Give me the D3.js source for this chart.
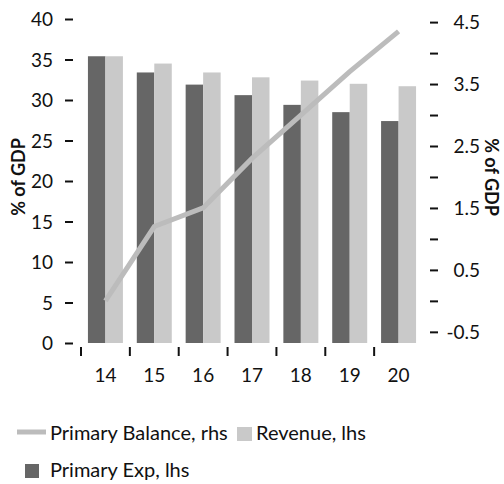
<!DOCTYPE html>
<html>
<head>
<meta charset="utf-8">
<script src="https://cdn.jsdelivr.net/npm/d3@7"></script>
<style>
  html, body { margin: 0; padding: 0; background: #fff; }
  svg text { font-family: Lato, "Open Sans", sans-serif; fill: #111; }
</style>
</head>
<body>
<svg id="chart" width="504" height="484"></svg>
<script>
// Fiscal projections, % of GDP
const years = ["14", "15", "16", "17", "18", "19", "20"];
const primaryExp = [35.4, 33.4, 31.9, 30.6, 29.4, 28.5, 27.4];
const revenue = [35.4, 34.5, 33.4, 32.8, 32.4, 32.0, 31.7];
const primaryBalance = [0.0, 1.2, 1.5, 2.3, 3.0, 3.7, 4.35];

const leftTicks = [0, 5, 10, 15, 20, 25, 30, 35, 40];
const rightTicks = [-0.5, 0, 0.5, 1, 1.5, 2, 2.5, 3, 3.5, 4, 4.5];
const rightLabelled = [-0.5, 0.5, 1.5, 2.5, 3.5, 4.5];

const seriesNames = {
  balance: "Primary Balance, rhs",
  revenue: "Revenue, lhs",
  exp: "Primary Exp, lhs"
};
const colors = { exp: "#666666", revenue: "#c9c9c9", balance: "#bcbcbc" };

const svg = d3.select("#chart");
const axisFont = 19;
const legendFont = 20;
const titleFont = 18;

const plotTop = 19, plotBottom = 343, plotLeft = 81, plotRight = 423;

const x = d3.scaleBand().domain(years).range([plotLeft, plotRight])
  .paddingInner(0.284).paddingOuter(0.142);
const xSub = d3.scaleBand().domain(["exp", "revenue"]).range([0, x.bandwidth()]);
const yL = d3.scaleLinear().domain([0, 40]).range([plotBottom, plotTop]);
const yR = d3.scaleLinear().domain([-0.68, 4.55]).range([plotBottom, plotTop]);

// Bars
const rows = years.map((y, i) => ({ year: y, exp: primaryExp[i], revenue: revenue[i] }));
const groups = svg.append("g").selectAll("g").data(rows).join("g")
  .attr("transform", d => `translate(${x(d.year)},0)`);
groups.selectAll("rect")
  .data(d => ["exp", "revenue"].map(k => ({ key: k, value: d[k] })))
  .join("rect")
  .attr("x", d => xSub(d.key))
  .attr("width", xSub.bandwidth())
  .attr("y", d => yL(d.value))
  .attr("height", d => yL(0) - yL(d.value))
  .attr("fill", d => colors[d.key]);

// Primary balance line on the right-hand scale
const line = d3.line()
  .x((d, i) => x(years[i]) + x.bandwidth() / 2)
  .y(d => yR(d));
svg.append("path")
  .datum(primaryBalance)
  .attr("d", line)
  .attr("fill", "none")
  .attr("stroke", colors.balance)
  .attr("stroke-width", 5);

// Left axis
const axL = svg.append("g").attr("transform", "translate(73,0)")
  .call(d3.axisLeft(yL).tickValues(leftTicks).tickSize(8).tickPadding(12));
axL.select(".domain").remove();
axL.selectAll(".tick line").attr("stroke", "#111").attr("stroke-width", 2);
axL.selectAll(".tick text").style("font-size", axisFont + "px").attr("dy", "0.35em");

// Right axis (every other tick labelled)
const axR = svg.append("g").attr("transform", "translate(430,0)")
  .call(d3.axisRight(yR).tickValues(rightTicks).tickSize(8)
    .tickFormat(d => rightLabelled.includes(d) ? d.toFixed(1) : ""));
axR.select(".domain").remove();
axR.selectAll(".tick line").attr("stroke", "#111").attr("stroke-width", 2);
axR.selectAll(".tick text").style("font-size", axisFont + "px")
  .attr("text-anchor", "end").attr("x", 50).attr("dy", "0.35em");

// Category axis: boundary ticks and year labels
const gap = x.step() - x.bandwidth();
const axB = svg.append("g");
axB.selectAll("line").data(years).join("line")
  .attr("x1", d => x(d) - gap / 2).attr("x2", d => x(d) - gap / 2)
  .attr("y1", 347).attr("y2", 356)
  .attr("stroke", "#111").attr("stroke-width", 2);
axB.selectAll("text").data(years).join("text")
  .attr("x", d => x(d) + x.bandwidth() / 2)
  .attr("y", 382)
  .attr("text-anchor", "middle")
  .style("font-size", axisFont + "px")
  .text(d => d);

// Axis titles
svg.append("text")
  .attr("transform", "translate(25,177) rotate(-90)")
  .attr("text-anchor", "middle")
  .style("font-size", titleFont + "px").style("font-weight", "bold")
  .text("% of GDP");
svg.append("text")
  .attr("transform", "translate(485,177) rotate(90)")
  .attr("text-anchor", "middle")
  .style("font-size", titleFont + "px").style("font-weight", "bold")
  .text("% of GDP");

// Legend
const legend = svg.append("g");
legend.append("line").attr("x1", 17).attr("x2", 46).attr("y1", 432).attr("y2", 432)
  .attr("stroke", colors.balance).attr("stroke-width", 5);
legend.append("text").attr("x", 50).attr("y", 440).style("font-size", legendFont + "px")
  .text(seriesNames.balance);
legend.append("rect").attr("x", 237).attr("y", 427).attr("width", 15).attr("height", 14)
  .attr("fill", colors.revenue);
legend.append("text").attr("x", 256).attr("y", 440).style("font-size", legendFont + "px")
  .text(seriesNames.revenue);
legend.append("rect").attr("x", 25).attr("y", 464).attr("width", 14).attr("height", 14)
  .attr("fill", colors.exp);
legend.append("text").attr("x", 50).attr("y", 477).style("font-size", legendFont + "px")
  .text(seriesNames.exp);
</script>
</body>
</html>
